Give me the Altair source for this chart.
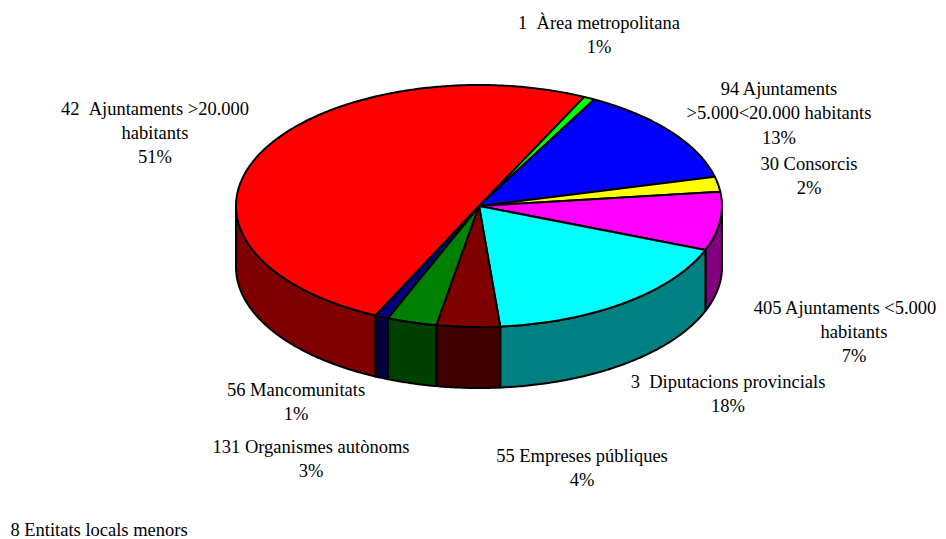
import math
import altair as alt

names = ["Area", "Ajunt5", "Consorcis", "Ajunt0", "Diput", "Empreses", "Organismes", "Mancom", "Ajunt20"]
shares = [0.75, 13.25, 2.0, 7.8, 17.7, 4.2, 3.3, 0.9, 50.1]
top_colors = ["#00ff00", "#0000ff", "#ffff00", "#ff00ff", "#00ffff", "#800000", "#008000", "#000080", "#ff0000"]
side_colors = ["#008000", "#000080", "#808000", "#800080", "#008080", "#400000", "#004000", "#000040", "#800000"]
first_angle = 25.6

labels = [
    "1\u00a0\u00a0Àrea metropolitana", "1%",
    "94 Ajuntaments", ">5.000<20.000 habitants", "13%",
    "30 Consorcis", "2%",
    "405 Ajuntaments <5.000", "habitants", "7%",
    "3\u00a0\u00a0Diputacions provincials", "18%",
    "55 Empreses públiques", "4%",
    "131 Organismes autònoms", "3%",
    "56 Mancomunitats", "1%",
    "42\u00a0\u00a0Ajuntaments >20.000", "habitants", "51%",
    "8 Entitats locals menors",
]
label_x = [599, 599, 779, 779, 779, 809, 809, 845, 854, 854, 728, 728, 582, 582, 311, 311, 296, 296, 155, 155, 155, 99]
label_y = [23, 47, 89, 113, 138, 164, 188, 308, 332, 356, 382, 406, 456, 480, 447, 471, 390, 414, 109, 133, 157, 530]

CX, CY, RX, RY, DEPTH = 479, 206, 243, 121, 61
PLOT_W, PLOT_H = 930, 523

def pt(a, dy=0):
    r = math.radians(a)
    return [CX + RX * math.sin(r), CY - RY * math.cos(r) + dy]

def arc(a1, a2, dy=0):
    n = max(2, int(abs(a2 - a1)) * 2)
    return [pt(a1 + (a2 - a1) * i / n, dy) for i in range(n + 1)]

tops, sides = [], []
a = first_angle
for name, s, tc, sc in zip(names, shares, top_colors, side_colors):
    b = a + s * 3.6
    ring = [[CX, CY]] + arc(a, b) + [[CX, CY]]
    tops.append({"type": "Feature", "properties": {"c": tc}, "geometry": {"type": "Polygon", "coordinates": [ring]}})
    lo, hi = max(a, 90), min(b, 270)
    if lo < hi:
        ring = arc(lo, hi) + arc(hi, lo, DEPTH)
        ring.append(ring[0])
        sides.append({"type": "Feature", "properties": {"c": sc}, "geometry": {"type": "Polygon", "coordinates": [ring]}})
    a = b

c_scale = alt.Color("properties.c:N", scale=None, legend=None)

def shapes(feats):
    return alt.Chart(alt.Data(values=feats)).mark_geoshape(stroke="black", strokeWidth=2, strokeJoin="round").encode(color=c_scale).project(**{"type": "identity", "scale": 1, "translate": [-8, -8]})

text = alt.Chart(alt.Data(values=[{"t": t, "x": x - 8, "y": y - 8} for t, x, y in zip(labels, label_x, label_y)])).mark_text(
    font="Liberation Serif", fontSize=18.5, color="black", align="center", baseline="middle", clip=False
).encode(
    x=alt.X("x:Q", scale=alt.Scale(domain=[0, PLOT_W], range=[0, PLOT_W]), axis=None),
    y=alt.Y("y:Q", scale=alt.Scale(domain=[0, PLOT_H], range=[0, PLOT_H], clamp=False), axis=None),
    text="t:N",
)

chart = alt.layer(shapes(sides), shapes(tops), text).resolve_scale(color="independent").properties(
    width=PLOT_W, height=PLOT_H, background="white", padding=0
).configure_view(stroke=None)
chart.save("out.html", embed_options={"renderer": "svg", "actions": False})
